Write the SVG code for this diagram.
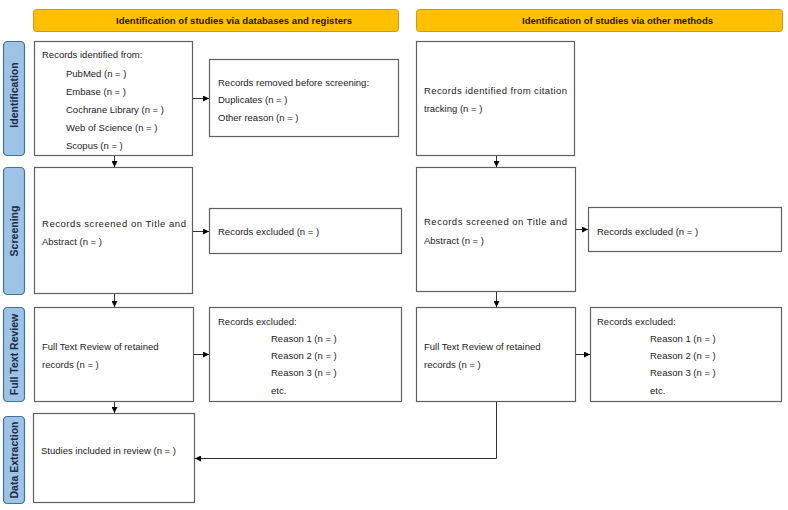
<svg xmlns="http://www.w3.org/2000/svg" width="788" height="510" viewBox="0 0 788 510">
<defs>
<marker id="ah" viewBox="0 0 10 10" refX="10" refY="5" markerWidth="6" markerHeight="6" markerUnits="userSpaceOnUse" orient="auto">
<path d="M0,0 L10,5 L0,10 z" fill="#000"/>
</marker>
<style>
.banner{fill:#ffc000;stroke:#c89a10;stroke-width:1}
.bt{font-family:"Liberation Sans",Arial,sans-serif;font-size:9.5px;font-weight:bold;fill:#1a1a1a}
.side{fill:#9dc3e6;stroke:#41719c;stroke-width:1.2}
.st{font-family:"Liberation Sans",Arial,sans-serif;font-size:10.5px;font-weight:bold;fill:#1f2a44;text-anchor:middle}
.box{fill:#fff;stroke:#606060;stroke-width:1.2}
.t{font-family:"Liberation Sans",Arial,sans-serif;font-size:9.5px;fill:#222}
.c{fill:none;stroke:#333;stroke-width:1}
</style>
</defs>
<rect width="788" height="510" fill="#fff"/>

<g id="banner-db"><rect class="banner" x="33.5" y="9.5" width="365" height="22" rx="3"/><text class="bt" x="116" y="24" textLength="236" lengthAdjust="spacing">Identification  of studies via databases and registers</text></g>
<g id="banner-other"><rect class="banner" x="416.5" y="9.5" width="366" height="22" rx="3"/><text class="bt" x="522" y="24" textLength="191" lengthAdjust="spacing">Identification  of studies via other methods</text></g>

<g id="side-identification"><rect class="side" x="3.5" y="41.5" width="21" height="114" rx="4"/><text class="st" transform="translate(17.5,95) rotate(-90)">Identification</text></g>
<g id="side-screening"><rect class="side" x="3.5" y="167.5" width="21" height="127" rx="4"/><text class="st" transform="translate(17.5,231) rotate(-90)">Screening</text></g>
<g id="side-fulltext"><rect class="side" x="3.5" y="307.5" width="21" height="94" rx="4"/><text class="st" transform="translate(17.5,354.5) rotate(-90)">Full  Text Review</text></g>
<g id="side-extraction"><rect class="side" x="3.5" y="416.5" width="21" height="87" rx="4"/><text class="st" transform="translate(17.5,460) rotate(-90)">Data Extraction</text></g>

<g id="records-identified"><rect class="box" x="34.5" y="41.5" width="158" height="114"/>
<text class="t" x="42" y="58">Records identified from:</text>
<text class="t" x="66" y="77">PubMed (n = )</text>
<text class="t" x="66" y="95">Embase (n = )</text>
<text class="t" x="66" y="113">Cochrane Library (n = )</text>
<text class="t" x="66" y="131">Web of Science (n = )</text>
<text class="t" x="66" y="149">Scopus (n = )</text></g>

<g id="records-removed"><rect class="box" x="209.5" y="59.5" width="189" height="77"/>
<text class="t" x="218" y="86">Records removed before screening:</text>
<text class="t" x="218" y="103">Duplicates (n = )</text>
<text class="t" x="218" y="121">Other reason (n = )</text></g>

<g id="screened-db"><rect class="box" x="34.5" y="167.5" width="158" height="126"/>
<text class="t" x="42" y="227" textLength="144" lengthAdjust="spacing">Records screened on Title and</text>
<text class="t" x="42" y="245">Abstract (n = )</text></g>

<g id="excluded-db"><rect class="box" x="209.5" y="208.5" width="192" height="45"/>
<text class="t" x="218" y="235">Records excluded (n = )</text></g>

<g id="fulltext-db"><rect class="box" x="34.5" y="307.5" width="159" height="94"/>
<text class="t" x="42" y="350">Full Text Review of retained</text>
<text class="t" x="42" y="368">records (n = )</text></g>

<g id="excluded-ft-db"><rect class="box" x="209.5" y="307.5" width="192" height="94"/>
<text class="t" x="218" y="325">Records excluded:</text>
<text class="t" x="271" y="342">Reason 1 (n = )</text>
<text class="t" x="271" y="359">Reason 2 (n = )</text>
<text class="t" x="271" y="376">Reason 3 (n = )</text>
<text class="t" x="271" y="394">etc.</text></g>

<g id="included"><rect class="box" x="33.5" y="413.5" width="161" height="89"/>
<text class="t" x="41" y="454">Studies included in review (n = )</text></g>

<g id="citation"><rect class="box" x="416.5" y="41.5" width="158" height="114"/>
<text class="t" x="424" y="94" textLength="143" lengthAdjust="spacing">Records identified from citation</text>
<text class="t" x="424" y="112">tracking (n = )</text></g>

<g id="screened-other"><rect class="box" x="416.5" y="167.5" width="159" height="124"/>
<text class="t" x="424" y="225" textLength="143" lengthAdjust="spacing">Records screened on Title and</text>
<text class="t" x="424" y="244">Abstract (n = )</text></g>

<g id="excluded-other"><rect class="box" x="588.5" y="207.5" width="193" height="44"/>
<text class="t" x="597" y="235">Records excluded (n = )</text></g>

<g id="fulltext-other"><rect class="box" x="416.5" y="307.5" width="159" height="94"/>
<text class="t" x="424" y="350">Full Text Review of retained</text>
<text class="t" x="424" y="368">records (n = )</text></g>

<g id="excluded-ft-other"><rect class="box" x="590.5" y="307.5" width="191" height="94"/>
<text class="t" x="597" y="325">Records excluded:</text>
<text class="t" x="650" y="342">Reason 1 (n = )</text>
<text class="t" x="650" y="359">Reason 2 (n = )</text>
<text class="t" x="650" y="376">Reason 3 (n = )</text>
<text class="t" x="650" y="394">etc.</text></g>

<g id="connectors">
<line class="c" x1="193" y1="98.5" x2="209" y2="98.5" marker-end="url(#ah)"/>
<line class="c" x1="114.5" y1="156" x2="114.5" y2="167" marker-end="url(#ah)"/>
<line class="c" x1="193" y1="231.5" x2="209" y2="231.5" marker-end="url(#ah)"/>
<line class="c" x1="114.5" y1="294" x2="114.5" y2="307" marker-end="url(#ah)"/>
<line class="c" x1="194" y1="354.5" x2="209" y2="354.5" marker-end="url(#ah)"/>
<line class="c" x1="114.5" y1="402" x2="114.5" y2="413" marker-end="url(#ah)"/>
<line class="c" x1="496.5" y1="156" x2="496.5" y2="167" marker-end="url(#ah)"/>
<line class="c" x1="576" y1="229.5" x2="588" y2="229.5" marker-end="url(#ah)"/>
<line class="c" x1="496.5" y1="292" x2="496.5" y2="307" marker-end="url(#ah)"/>
<line class="c" x1="576" y1="354.5" x2="590" y2="354.5" marker-end="url(#ah)"/>
<polyline class="c" points="496.5,402 496.5,458.5 195,458.5" marker-end="url(#ah)"/>
</g>
</svg>
